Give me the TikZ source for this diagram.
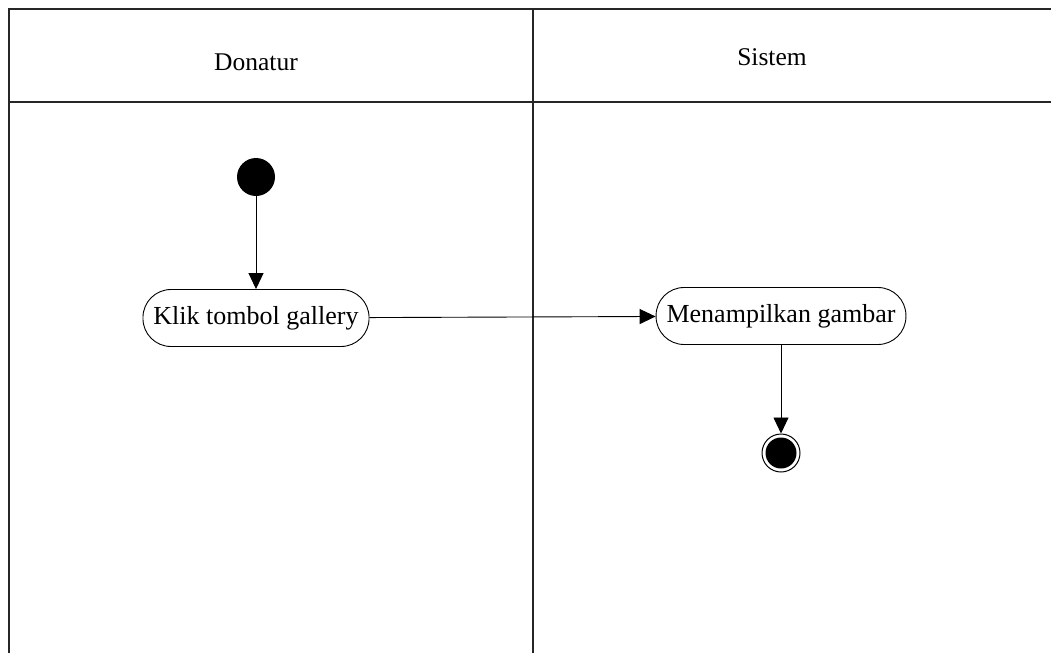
\documentclass[tikz,border=0pt]{standalone}
\usepackage{fontspec}
\setmainfont{Liberation Serif}
\usetikzlibrary{arrows.meta}
\begin{document}
\begin{tikzpicture}[x=1pt,y=-1pt,
  lane/.style={line width=1.8pt,black!85},
  action/.style={draw,line width=0.9pt,rectangle,rounded corners=28pt,minimum height=57pt,inner xsep=10.5pt,font=\fontsize{26}{30}\selectfont},
  label/.style={font=\fontsize{25.5}{30}\selectfont},
  flow/.style={line width=0.9pt,-{Triangle[length=16pt,width=15pt]}},
  startnode/.style={circle,fill=black,minimum size=38pt,inner sep=0pt},
  endnode/.style={circle,draw,line width=1pt,minimum size=38pt,inner sep=0pt}]
\useasboundingbox[fill=white] (0,0) rectangle (1051,653);
% swimlanes
\coordinate (tl) at (9,9);
\coordinate (tr) at (1051,9);
\coordinate (bl) at (9,653);
\coordinate (hl) at (9,102);
\coordinate (hr) at (1051,102);
\coordinate (mt) at (533,9);
\coordinate (mb) at (533,653);
\draw[lane] (bl) -- (tl) -- (tr);
\draw[lane] (hl) -- (hr);
\draw[lane] (mt) -- (mb);
\node[label] (h1) at (256,62) {Donatur};
\node[label] (h2) at (772,57) {Sistem};
% nodes
\node[startnode] (start) at (256,177) {};
\node[action] (klik) at (256,318) {Klik tombol gallery};
\node[action] (tampil) at (781,316) {Menampilkan gambar};
\node[endnode] (end) at (781,453) {};
\fill (end.center) circle (15.5pt);
% flows
\draw[flow] (start) -- (klik);
\draw[flow] (klik) -- (tampil);
\draw[flow] (tampil) -- (end);
\end{tikzpicture}
\end{document}
